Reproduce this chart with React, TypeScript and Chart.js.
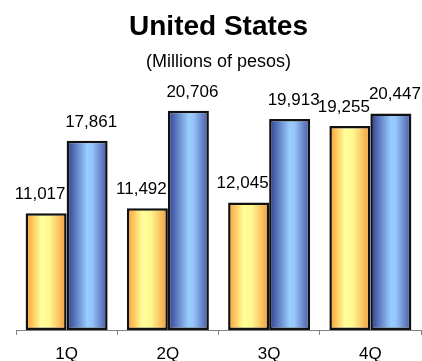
import React, { useEffect, useRef } from "react";
import { Chart, registerables } from "chart.js";

Chart.register(...registerables);

const categories = ["1Q", "2Q", "3Q", "4Q"];
const seriesOrange = [11017, 11492, 12045, 19255];
const seriesBlue = [17861, 20706, 19913, 20447];

const FONT = '"Liberation Sans", Arial, sans-serif';

const orangeStops: [number, string][] = [
  [0, "#FF9A30"],
  [0.38, "#FFFF99"],
  [0.58, "#FFF890"],
  [1, "#F29A3A"],
];
const blueStops: [number, string][] = [
  [0, "#2E3C8E"],
  [0.5, "#99CCFF"],
  [0.62, "#95C6FA"],
  [1, "#4656A2"],
];

export default function App() {
  const ref = useRef<HTMLCanvasElement>(null);

  useEffect(() => {
    const canvas = ref.current!;
    const stopsByDataset = [orangeStops, blueStops];
    const labelOffsets = [-6, 4];

    const gradientPlugin = {
      id: "barGradient",
      beforeDatasetsDraw(chart: any) {
        const ctx = chart.ctx;
        chart.data.datasets.forEach((_ds: any, di: number) => {
          const meta = chart.getDatasetMeta(di);
          meta.data.forEach((el: any) => {
            const { x, width } = el.getProps(["x", "width"], true);
            const g = ctx.createLinearGradient(x - width / 2, 0, x + width / 2, 0);
            stopsByDataset[di].forEach(([o, c]) => g.addColorStop(o, c));
            el.options.backgroundColor = g;
          });
        });
      },
    };

    const labelPlugin = {
      id: "valueLabels",
      afterDatasetsDraw(chart: any) {
        const ctx = chart.ctx;
        ctx.save();
        ctx.font = `17px ${FONT}`;
        ctx.fillStyle = "#000";
        ctx.textAlign = "center";
        ctx.textBaseline = "alphabetic";
        chart.data.datasets.forEach((ds: any, di: number) => {
          const meta = chart.getDatasetMeta(di);
          meta.data.forEach((el: any, i: number) => {
            const { x, y } = el.getProps(["x", "y"], true);
            const v = ds.data[i] as number;
            ctx.fillText(v.toLocaleString("en-US"), x + labelOffsets[di], y - 14);
          });
        });
        ctx.restore();
      },
    };

    const chart = new Chart(canvas, {
      type: "bar",
      data: {
        labels: categories,
        datasets: [
          {
            label: "Orange",
            data: seriesOrange,
            backgroundColor: () => "#FFC060",
            borderColor: "#111",
            borderWidth: 2.5,
            borderSkipped: false,
            categoryPercentage: 0.81,
            barPercentage: 1,
          },
          {
            label: "Blue",
            data: seriesBlue,
            backgroundColor: () => "#6688DD",
            borderColor: "#111",
            borderWidth: 2.5,
            borderSkipped: false,
            categoryPercentage: 0.81,
            barPercentage: 1,
          },
        ],
      },
      options: {
        responsive: false,
        animation: false,
        devicePixelRatio: 1,
        layout: { padding: { left: 16, right: 1, top: 0, bottom: 0 } },
        plugins: {
          legend: { display: false },
          tooltip: { enabled: false },
          title: {
            display: true,
            text: "United States",
            color: "#000",
            font: { family: FONT, size: 28, weight: "bold", lineHeight: 1.2 },
            padding: { top: 10, bottom: 4 },
          },
          subtitle: {
            display: true,
            text: "(Millions of pesos)",
            color: "#000",
            font: { family: FONT, size: 18, lineHeight: 1.2 },
            padding: { top: 3.6, bottom: 3 },
          },
        },
        scales: {
          x: {
            afterFit: (scale: any) => {
              scale.height = 31;
            },
            grid: {
              display: true,
              drawOnChartArea: false,
              drawTicks: true,
              tickLength: 5,
              color: "#808080",
              offset: true,
            },
            border: { display: true, color: "#808080", width: 1 },
            ticks: {
              color: "#000",
              font: { family: FONT, size: 17, lineHeight: 1 },
              padding: 11,
            },
          },
          y: {
            display: false,
            min: 0,
            max: 24000,
          },
        },
      },
      plugins: [gradientPlugin, labelPlugin],
    });

    return () => chart.destroy();
  }, []);

  return (
    <div style={{ position: "fixed", left: 0, top: 0, width: 422, height: 361, background: "#fff" }}>
      <canvas ref={ref} width={422} height={361} style={{ display: "block" }} />
    </div>
  );
}
